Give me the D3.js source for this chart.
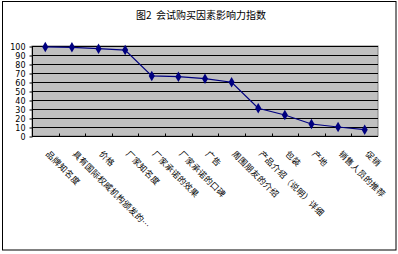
<!DOCTYPE html>
<html>
<head>
<meta charset="utf-8">
<script src="https://cdn.jsdelivr.net/npm/d3@7"></script>
<style>
  body { margin: 0; background: #fff; }
  svg { display: block; font-family: "Noto Sans CJK SC", "DejaVu Sans", sans-serif; }
</style>
</head>
<body>
<script>
// Data
const categories = ["品牌知名度", "具有国际权威机构颁发的…", "价格", "厂家知名度", "厂家承诺的效果",
  "厂家承诺的口碑", "广告", "周围朋友的介绍", "产品介绍（说明）详细", "包装", "产地", "销售人员的推荐", "促销"];
const values = [99, 98.5, 97, 95.5, 66.7, 65.9, 63.7, 59.7, 30.8, 23.3, 13.3, 10, 7];
const yTicks = [0, 10, 20, 30, 40, 50, 60, 70, 80, 90, 100];

const width = 398;
const height = 254;
const marginTop = 46;
const marginLeft = 32;
const plotRight = 378;
const plotBottom = 136;

const x = d3.scaleBand().domain(categories).range([marginLeft, plotRight]);
const y = d3.scaleLinear().domain([0, 100]).range([plotBottom, marginTop]);

const svg = d3.select("body").append("svg")
    .attr("width", width)
    .attr("height", height);

// outer frame
svg.append("rect")
    .attr("x", 2.5).attr("y", 1.5)
    .attr("width", 393.5).attr("height", 248.5)
    .attr("fill", "#fff")
    .attr("stroke", "#000");

// title
svg.append("text")
    .attr("x", 201).attr("y", 19)
    .attr("text-anchor", "middle")
    .attr("font-size", 10)
    .attr("xml:space", "preserve")
    .text("图2  会试购买因素影响力指数");

// plot area
svg.append("rect")
    .attr("x", marginLeft).attr("y", marginTop)
    .attr("width", plotRight - marginLeft).attr("height", plotBottom - marginTop)
    .attr("fill", "#c0c0c0")
    .attr("stroke", "#808080");

// gridlines
svg.append("g")
    .selectAll("line")
    .data(yTicks.filter(d => d > 0))
    .join("line")
    .attr("x1", marginLeft).attr("x2", plotRight)
    .attr("y1", d => Math.round(y(d)) + 0.5).attr("y2", d => Math.round(y(d)) + 0.5)
    .attr("stroke", "#000");

// y axis
const yAxis = svg.append("g")
    .attr("transform", `translate(${marginLeft + 0.5},0.5)`)
    .call(d3.axisLeft(y).tickValues(yTicks).tickSize(3).tickPadding(4));
yAxis.selectAll("text").attr("font-size", 8).attr("font-family", "DejaVu Sans");
yAxis.select(".domain").attr("d", `M0,${marginTop}V${plotBottom}`);

// x axis
const xAxis = svg.append("g")
    .attr("transform", `translate(0,${plotBottom + 0.5})`);
xAxis.append("line")
    .attr("x1", marginLeft).attr("x2", plotRight)
    .attr("stroke", "#000");
xAxis.selectAll(".tk")
    .data(categories.slice(1))
    .join("line")
    .attr("class", "tk")
    .attr("x1", d => Math.round(x(d)) + 0.5).attr("x2", d => Math.round(x(d)) + 0.5)
    .attr("y1", -3).attr("y2", 0)
    .attr("stroke", "#000");

xAxis.selectAll(".lbl")
    .data(categories)
    .join("text")
    .attr("class", "lbl")
    .attr("font-size", 8.5)
    .attr("letter-spacing", 0.3)
    .attr("transform", d => `translate(${x(d) + x.bandwidth() / 2},${18}) rotate(45)`)
    .text(d => d);

// line
const line = d3.line()
    .x((d, i) => x(categories[i]) + x.bandwidth() / 2)
    .y(d => y(d));

svg.append("path")
    .datum(values)
    .attr("fill", "none")
    .attr("stroke", "#000080")
    .attr("stroke-width", 1.2)
    .attr("d", line);

svg.selectAll(".pt")
    .data(values)
    .join("path")
    .attr("class", "pt")
    .attr("transform", (d, i) => `translate(${x(categories[i]) + x.bandwidth() / 2},${y(d)})`)
    .attr("d", d3.symbol(d3.symbolDiamond, 32))
    .attr("fill", "#000080");
</script>
</body>
</html>
